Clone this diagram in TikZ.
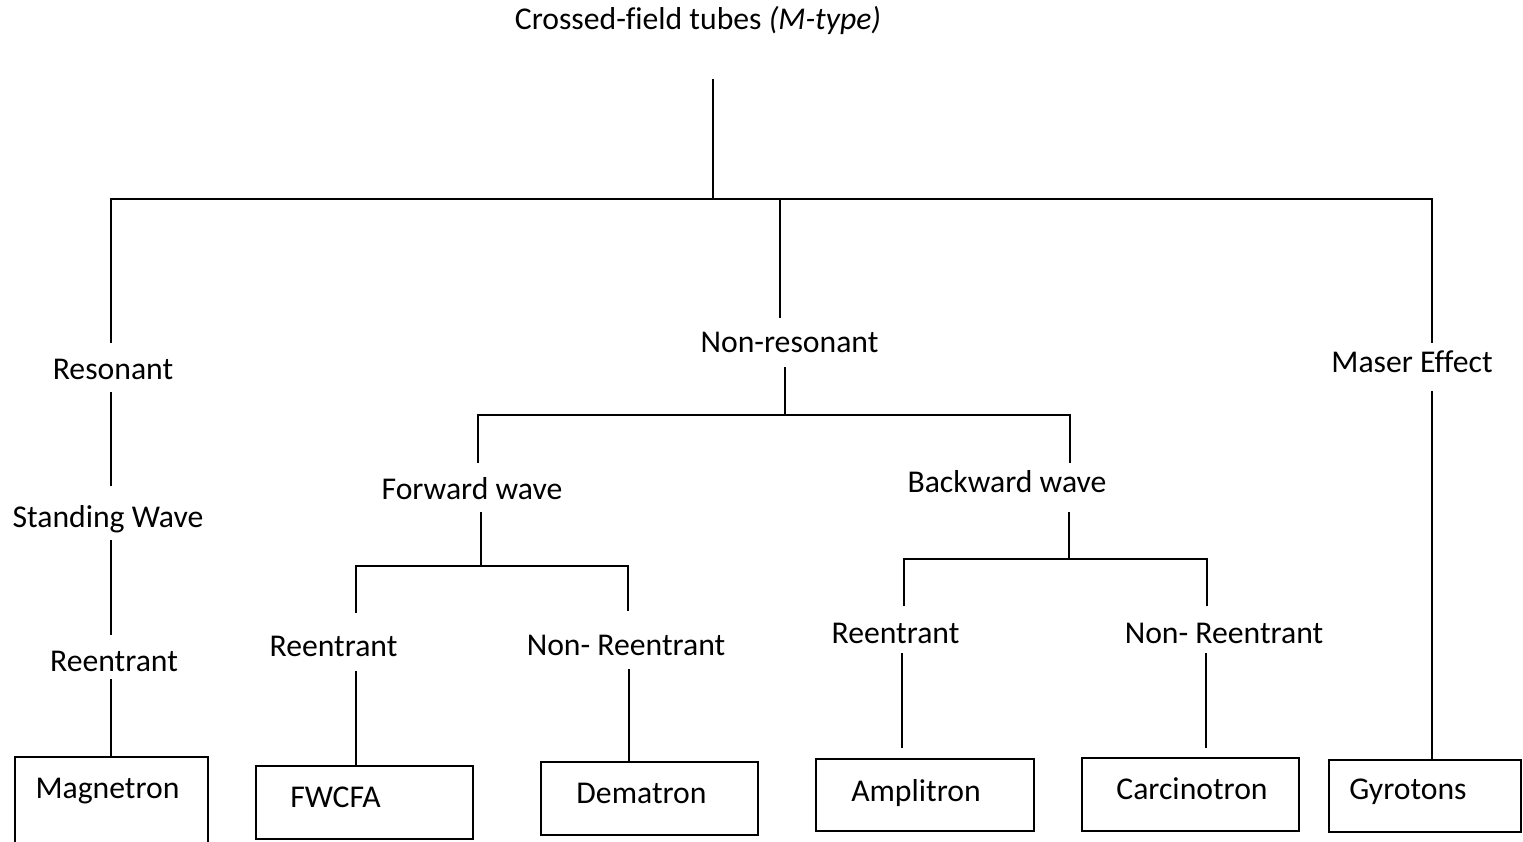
\documentclass[tikz,border=0pt]{standalone}
\usepackage{fontspec}
\setmainfont{Carlito}[Ligatures=NoCommon]
\begin{document}
\begin{tikzpicture}[x=1pt,y=-1pt,
  lbl/.style={font=\fontsize{31.7pt}{38pt}\selectfont, inner sep=0pt, anchor=base},
  wire/.style={line width=2.8pt},
  tubebox/.style={draw, line width=2.8pt, inner sep=0pt, outer sep=0pt, anchor=north west}]
\useasboundingbox (0,0) rectangle (1523,842);
\clip (0,0) rectangle (1523,842);

% ---- category labels ----
\node[lbl] (title) at (698,30) {Crossed-field tubes \textit{(M-type)}};
\node[lbl] (res)   at (113,379) {Resonant};
\node[lbl] (stw)   at (108,527) {Standing Wave};
\node[lbl] (reL)   at (114,671) {Reentrant};
\node[lbl] (nonres) at (789.5,352) {Non-resonant};
\node[lbl] (fwd)   at (472,499) {Forward wave};
\node[lbl] (bwd)   at (1007,492) {Backward wave};
\node[lbl] (fwRe)  at (333.5,656) {Reentrant};
\node[lbl] (fwNon) at (626,655) {Non- Reentrant};
\node[lbl] (bwRe)  at (895.5,643) {Reentrant};
\node[lbl] (bwNon) at (1224,643) {Non- Reentrant};
\node[lbl] (maser) at (1412,372) {Maser Effect};

% ---- device boxes ----
\node[tubebox, minimum width=193pt, minimum height=110pt] (bMag) at (15,757) {};
\node[tubebox, minimum width=217pt, minimum height=73pt] (bFw)  at (256,766) {};
\node[tubebox, minimum width=217pt, minimum height=73pt] (bDem) at (541,762) {};
\node[tubebox, minimum width=218pt, minimum height=72pt] (bAmp) at (816,759) {};
\node[tubebox, minimum width=217pt, minimum height=73pt] (bCar) at (1082,758) {};
\node[tubebox, minimum width=192pt, minimum height=72pt] (bGyr) at (1329,760) {};

\node[lbl] (tMag) at (107.5,798) {Magnetron};
\node[lbl] (tFw)  at (335.5,807) {FWCFA};
\node[lbl] (tDem) at (641.5,803) {Dematron};
\node[lbl] (tAmp) at (916,801) {Amplitron};
\node[lbl] (tCar) at (1192,799) {Carcinotron};
\node[lbl] (tGyr) at (1408,799) {Gyrotons};

% ---- junction and line-end points ----
\coordinate (rootTop) at (713,79);
\coordinate (rootBus) at (713,199);
\coordinate (busL) at (111,199);
\coordinate (busM) at (780,199);
\coordinate (busR) at (1432,199);
\coordinate (resUp) at (111,343);
\coordinate (resDn) at (111,392);
\coordinate (stwUp) at (111,486);
\coordinate (stwDn) at (111,540);
\coordinate (reLUp) at (111,635);
\coordinate (reLDn) at (111,679);
\coordinate (nrUp) at (780,318);
\coordinate (nrDn) at (785,367);
\coordinate (nrBus) at (785,415);
\coordinate (fwdUp) at (478,463);
\coordinate (fwdBus) at (478,415);
\coordinate (bwdBus) at (1070,415);
\coordinate (bwdUp) at (1070,463);
\coordinate (fwdDn) at (481,512);
\coordinate (fwJ) at (481,566);
\coordinate (fwReUp) at (356,613);
\coordinate (fwReBus) at (356,566);
\coordinate (fwNonBus) at (628,566);
\coordinate (fwNonUp) at (628,611);
\coordinate (fwReDn) at (356,671);
\coordinate (fwNonDn) at (629,669);
\coordinate (bwdDn) at (1069,512);
\coordinate (bwJ) at (1069,559);
\coordinate (bwReUp) at (904,606);
\coordinate (bwReBus) at (904,559);
\coordinate (bwNonBus) at (1207,559);
\coordinate (bwNonUp) at (1207,606);
\coordinate (bwReDn) at (902,653);
\coordinate (bwReEnd) at (902,748);
\coordinate (bwNonDn) at (1206,653);
\coordinate (bwNonEnd) at (1206,748);
\coordinate (maserUp) at (1432,343);
\coordinate (maserDn) at (1432,391);

% ---- connectors ----
\draw[wire] (rootTop) -- (rootBus);
\draw[wire] (resUp) -- (busL) -- (busR) -- (maserUp);
\draw[wire] (busM) -- (nrUp);
\draw[wire] (resDn) -- (stwUp);
\draw[wire] (stwDn) -- (reLUp);
\draw[wire] (reLDn) -- (reLDn |- bMag.north);
\draw[wire] (nrDn) -- (nrBus);
\draw[wire] (fwdUp) -- (fwdBus) -- (bwdBus) -- (bwdUp);
\draw[wire] (fwdDn) -- (fwJ);
\draw[wire] (fwReUp) -- (fwReBus) -- (fwNonBus) -- (fwNonUp);
\draw[wire] (fwReDn) -- (fwReDn |- bFw.north);
\draw[wire] (fwNonDn) -- (fwNonDn |- bDem.north);
\draw[wire] (bwdDn) -- (bwJ);
\draw[wire] (bwReUp) -- (bwReBus) -- (bwNonBus) -- (bwNonUp);
\draw[wire] (bwReDn) -- (bwReEnd);
\draw[wire] (bwNonDn) -- (bwNonEnd);
\draw[wire] (maserDn) -- (maserDn |- bGyr.north);
\end{tikzpicture}
\end{document}
